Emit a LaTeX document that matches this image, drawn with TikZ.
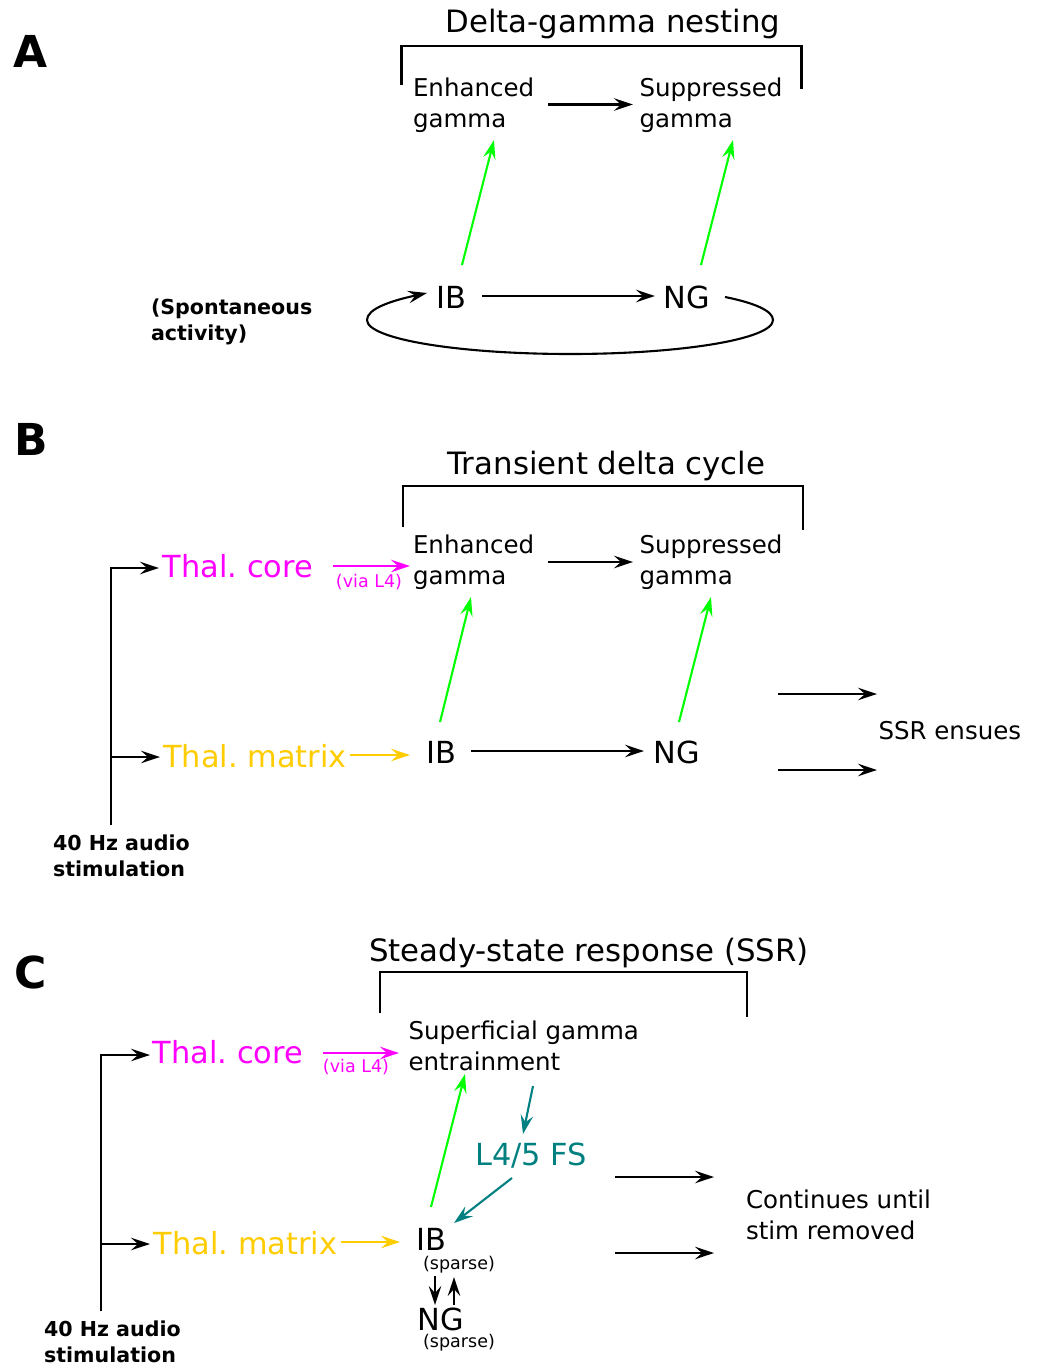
\documentclass[tikz,border=0pt]{standalone}
\usepackage{fontspec}
\setmainfont{DejaVu Sans}
\usetikzlibrary{arrows.meta,calc}
\definecolor{mgreen}{HTML}{00FF00}
\definecolor{mmag}{HTML}{FF00FF}
\definecolor{mgold}{HTML}{FFCC00}
\definecolor{mteal}{HTML}{008080}
\newcommand\myfs[2]{\fontsize{#1pt}{#2pt}\selectfont}
\frenchspacing
\begin{document}
\frenchspacing
\begin{tikzpicture}[x=1pt,y=-1pt,
  every node/.style={inner sep=0pt,outer sep=0pt},
  arr/.style={-{Stealth[length=19pt,width=12.5pt,inset=7pt]},line width=2.1pt},
  garr/.style={arr,mgreen},
  marr/.style={arr,mmag},
  yarr/.style={arr,mgold},
  tarr/.style={arr,mteal},
  brk/.style={line width=2.1pt},
  title/.style={anchor=base,font=\myfs{30.8}{36}},
  big/.style={anchor=base,font=\myfs{30.4}{34}},
  txt/.style={anchor=north west,align=left,font=\myfs{24.5}{31}},
  bld/.style={anchor=north west,align=left,font=\myfs{20.6}{26}\bfseries},
  small/.style={anchor=base,font=\myfs{17.5}{20}},
  panel/.style={anchor=base west,font=\myfs{44}{48}\bfseries},
]
\useasboundingbox[fill=white] (0,0) rectangle (1041,1365);

% ================= Panel A =================
\node[panel] (labA) at (13,67) {A};
\node[title] (titA) at (613,32) {Delta-gamma nesting};
\draw[brk] (401.5,85) -- (401.5,46) -- (801.5,46) -- (801.5,89);
\node[txt] (enhA) at (413,77.6) {Enhanced\\gamma};
\node[txt] (supA) at (639.5,77.6) {Suppressed\\gamma};
\node[big] (ibA) at (451.5,308) {IB};
\node[big] (ngA) at (687,308) {NG};
\node[bld] (spA) at (151,299.3) {(Spontaneous\\activity)};
\coordinate (eA1) at (548,104.5); \coordinate (eA2) at (633,104.5);
\draw[arr] (eA1) -- (eA2);
\coordinate (gA1s) at (462,265); \coordinate (gA1e) at (494,140);
\draw[garr] (gA1s) -- (gA1e);
\coordinate (gA2s) at (701,265); \coordinate (gA2e) at (733,140);
\draw[garr] (gA2s) -- (gA2e);
\coordinate (iA1) at (482,296); \coordinate (iA2) at (655,296);
\draw[arr] (iA1) -- (iA2);
\coordinate (lpA1) at (725,297); \coordinate (lpA2) at (427,293);
\draw[arr] (lpA1) .. controls (755,303) and (773,311) .. (773,320)
  .. controls (773,339) and (682,354) .. (570,354)
  .. controls (458,354) and (367,339) .. (367,320)
  .. controls (367,309) and (390,301) .. (lpA2);

% ================= Panel B =================
\node[panel] (labB) at (14,455) {B};
\node[title] (titB) at (606.5,474) {Transient delta cycle};
\draw[brk] (403,527) -- (403,486) -- (803,486) -- (803,530);
\node[txt] (enhB) at (413,534.4) {Enhanced\\gamma};
\node[txt] (supB) at (639.5,534.4) {Suppressed\\gamma};
\node[big,text=mmag] (tcB) at (238,577) {Thal. core};
\node[big,text=mgold] (tmB) at (255,767) {Thal. matrix};
\node[small,text=mmag] (viaB) at (369,587) {(via L4)};
\node[big] (ibB) at (441,763) {IB};
\node[big] (ngB) at (677,763) {NG};
\node[anchor=base west,font=\myfs{24.5}{31}] (ssrB) at (878.5,739) {SSR ensues};
\node[bld] (stB) at (53,835.3) {40 Hz audio\\stimulation};
\coordinate (eB1) at (548,562); \coordinate (eB2) at (633,562);
\draw[arr] (eB1) -- (eB2);
\coordinate (gB1s) at (440,722); \coordinate (gB1e) at (471,597);
\draw[garr] (gB1s) -- (gB1e);
\coordinate (gB2s) at (679,722); \coordinate (gB2e) at (711,597);
\draw[garr] (gB2s) -- (gB2e);
\coordinate (iB1) at (471,751); \coordinate (iB2) at (644,751);
\draw[arr] (iB1) -- (iB2);
\coordinate (mB1) at (333,566); \coordinate (mB2) at (410,566);
\draw[marr] (mB1) -- (mB2);
\coordinate (yB1) at (350,755); \coordinate (yB2) at (410,755);
\draw[yarr] (yB1) -- (yB2);
\coordinate (busB) at (111,825);
\coordinate (bB1) at (159,568); \coordinate (bB2) at (160,757);
\draw[arr] (busB) |- (bB1);
\draw[arr] (busB |- bB2) -- (bB2);
\coordinate (sB1) at (778,694); \coordinate (sB2) at (877,694);
\draw[arr] (sB1) -- (sB2);
\coordinate (sB3) at (778,770); \coordinate (sB4) at (877,770);
\draw[arr] (sB3) -- (sB4);

% ================= Panel C =================
\node[panel] (labC) at (14,988) {C};
\node[title] (titC) at (589,961) {Steady-state response (SSR)};
\draw[brk] (380,1013) -- (380,972) -- (747,972) -- (747,1017);
\node[txt] (supC) at (408.5,1020.4) {Superficial gamma\\entrainment};
\node[big,text=mmag] (tcC) at (228,1063) {Thal. core};
\node[big,text=mgold] (tmC) at (245.5,1254) {Thal. matrix};
\node[small,text=mmag] (viaC) at (356,1072) {(via L4)};
\node[big,text=mteal] (fsC) at (531,1165) {L4/5 FS};
\node[big] (ibC) at (431,1250) {IB};
\node[small] (spC1) at (459,1269) {(sparse)};
\node[big] (ngC) at (441,1330) {NG};
\node[small] (spC2) at (459,1347.5) {(sparse)};
\node[txt] (conC) at (746,1189.4) {Continues until\\stim removed};
\node[bld] (stC) at (44,1320.5) {40 Hz audio\\stimulation};
\coordinate (gC1s) at (431,1207); \coordinate (gC1e) at (465,1074);
\draw[garr] (gC1s) -- (gC1e);
\coordinate (tC1s) at (533,1086); \coordinate (tC1e) at (523,1134);
\draw[tarr] (tC1s) -- (tC1e);
\coordinate (tC2s) at (512,1178); \coordinate (tC2e) at (454,1223);
\draw[tarr] (tC2s) -- (tC2e);
\coordinate (dC1) at (435,1276); \coordinate (dC2) at (435,1305);
\draw[arr] (dC1) -- (dC2);
\coordinate (uC1) at (454,1305); \coordinate (uC2) at (454,1277);
\draw[arr] (uC1) -- (uC2);
\coordinate (mC1) at (323,1053); \coordinate (mC2) at (399,1053);
\draw[marr] (mC1) -- (mC2);
\coordinate (yC1) at (341,1242); \coordinate (yC2) at (400,1242);
\draw[yarr] (yC1) -- (yC2);
\coordinate (busC) at (101,1311);
\coordinate (bC1) at (150,1055); \coordinate (bC2) at (150,1244);
\draw[arr] (busC) |- (bC1);
\draw[arr] (busC |- bC2) -- (bC2);
\coordinate (sC1) at (615,1177); \coordinate (sC2) at (714,1177);
\draw[arr] (sC1) -- (sC2);
\coordinate (sC3) at (615,1253); \coordinate (sC4) at (714,1253);
\draw[arr] (sC3) -- (sC4);
\end{tikzpicture}
\end{document}
